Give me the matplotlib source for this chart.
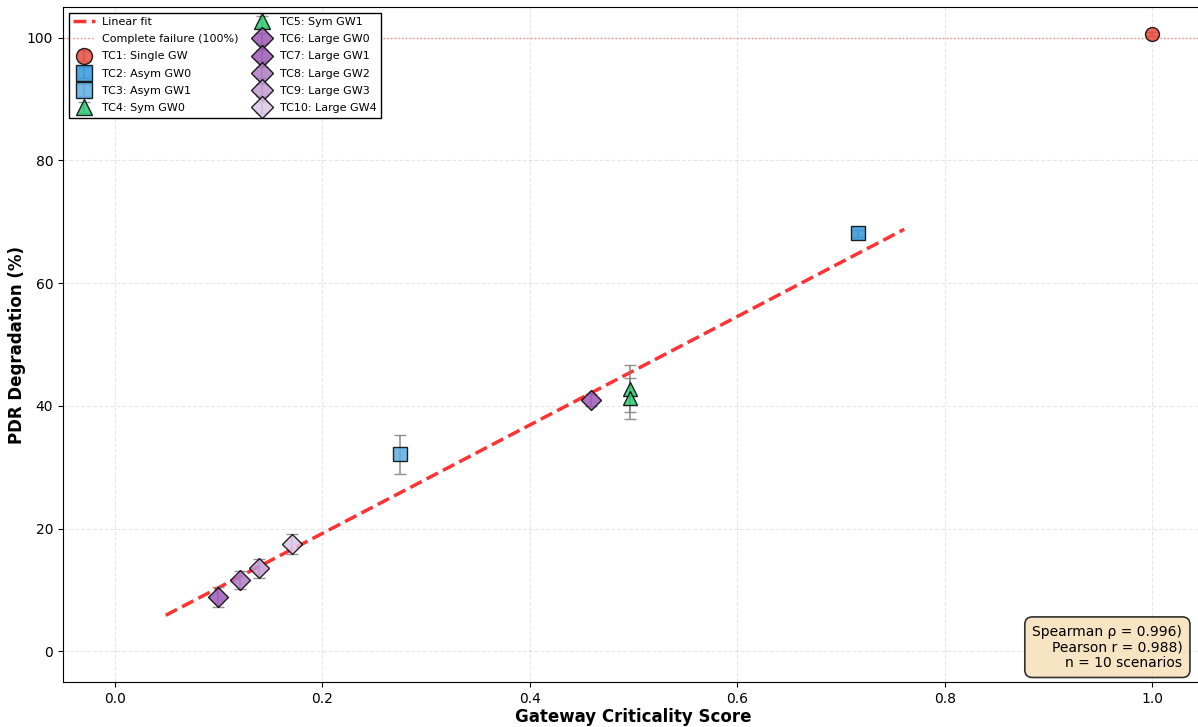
import numpy as np
import matplotlib
matplotlib.use('Agg')
import matplotlib.pyplot as plt

# Scenario data
labels = ['TC1: Single GW', 'TC2: Asym GW0', 'TC3: Asym GW1', 'TC4: Sym GW0',
          'TC5: Sym GW1', 'TC6: Large GW0', 'TC7: Large GW1', 'TC8: Large GW2',
          'TC9: Large GW3', 'TC10: Large GW4']
criticality = [1.000, 0.716, 0.275, 0.497, 0.497, 0.459, 0.099, 0.121, 0.139, 0.171]
pdr_degradation = [100.6, 68.1, 32.1, 42.8, 41.2, 40.9, 8.9, 11.6, 13.5, 17.5]
pdr_err = [0.3, 0.6, 3.2, 3.8, 3.4, 1.0, 1.6, 1.5, 1.6, 1.6]
markers = ['o', 's', 's', '^', '^', 'D', 'D', 'D', 'D', 'D']
colors = ['#e74c3c', '#3498db', '#5dade2', '#2ecc71', '#2ecc71',
          '#9b59b6', '#9b59b6', '#af7ac5', '#c39bd3', '#dcc6e8']

spearman_rho = 0.996
pearson_r = 0.988

fig = plt.figure(figsize=(11.98, 7.27), dpi=100)
ax = fig.add_axes([63 / 1198, 45 / 727, 1141 / 1198, 675 / 727])

# Linear fit over multi-gateway scenarios (TC1 excluded)
x_fit_data = np.array(criticality[1:])
y_fit_data = np.array(pdr_degradation[1:])
slope, intercept = np.polyfit(x_fit_data, y_fit_data, 1)
x_line = np.linspace(x_fit_data.min() - 0.05, x_fit_data.max() + 0.045, 100)
ax.plot(x_line, slope * x_line + intercept, '--', color='red', lw=2.5,
        alpha=0.8, label='Linear fit', zorder=2)
ax.axhline(100, color='red', ls=':', lw=1, alpha=0.5,
           label='Complete failure (100%)', zorder=1)

for i in range(len(labels)):
    ax.errorbar(criticality[i], pdr_degradation[i], yerr=pdr_err[i],
                fmt=markers[i], color=colors[i], markersize=10,
                markeredgecolor='black', markeredgewidth=1,
                ecolor='gray', elinewidth=1.2, capsize=4, alpha=0.85,
                label=labels[i], zorder=3)

ax.set_xlim(-0.05, 1.05)
ax.set_ylim(-5, 105)
ax.set_xlabel('Gateway Criticality Score', fontsize=12, fontweight='bold', labelpad=2)
ax.set_ylabel('PDR Degradation (%)', fontsize=12, fontweight='bold', labelpad=1)
ax.grid(True, ls='--', alpha=0.3)
ax.tick_params(labelsize=10)

leg = ax.legend(loc='upper left', ncol=2, fontsize=8, framealpha=1,
                edgecolor='black', columnspacing=1.1, handletextpad=0.6,
                labelspacing=0.65, borderaxespad=0.5, fancybox=False,
                markerscale=1.15)
leg.get_frame().set_linewidth(1)

stats_text = (f'Spearman ρ = {spearman_rho:.3f})\n'
              f'Pearson r = {pearson_r:.3f})\n'
              f'n = {len(labels)} scenarios')
ax.text(0.981, 0.018, stats_text, transform=ax.transAxes, fontsize=10,
        ha='right', va='bottom', linespacing=1.15,
        bbox=dict(boxstyle='round,pad=0.55', facecolor='wheat', alpha=0.8,
                  edgecolor='black', linewidth=1.2))

fig.savefig('out.png', dpi=100)
